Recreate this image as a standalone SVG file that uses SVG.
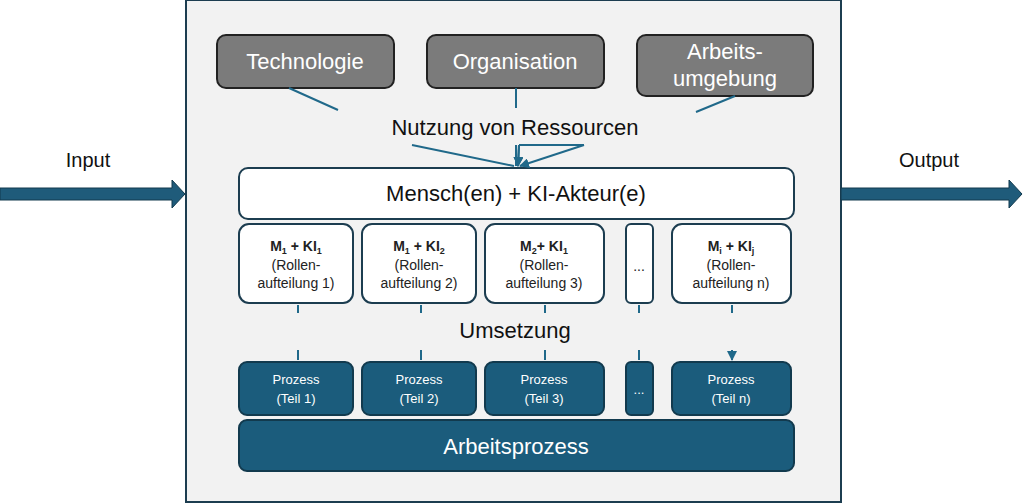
<svg xmlns="http://www.w3.org/2000/svg" width="1024" height="503" viewBox="0 0 1024 503">
<style>
text{font-family:"Liberation Sans",Arial,sans-serif;text-anchor:middle}
.g{fill:#7b7b7b;stroke:#222;stroke-width:2}
.w{fill:#fff;stroke:#1c3d50;stroke-width:2}
.b{fill:#1b5c7c;stroke:#123a4e;stroke-width:2}
.c{stroke:#20698a;stroke-width:2;fill:none}
.gt{fill:#fff;font-size:22px}
.st{font-size:14px;fill:#222}
.pt{font-size:13px;fill:#fff}
</style>
<defs>
<marker id="a" viewBox="0 0 10 10" refX="9" refY="5" markerWidth="5" markerHeight="5" orient="auto"><path d="M0,0L10,5L0,10z" fill="#20698a"/></marker>
</defs>
<rect x="0" y="0" width="1024" height="503" fill="#fff"/>
<rect id="frame" x="186" y="0" width="655" height="502" fill="#f2f2f2" stroke="#1c3d50" stroke-width="2"/>
<g id="input"><path d="M0,188H172V180L185,194L172,208V200H0z" fill="#1f5b7a" stroke="#123a4e"/><text x="88" y="167" font-size="20" fill="#111">Input</text></g>
<g id="output"><path d="M841,188H1009V180L1022,194L1009,208V200H841z" fill="#1f5b7a" stroke="#123a4e"/><text x="929" y="167" font-size="20" fill="#111">Output</text></g>
<g id="technologie"><rect class="g" x="217" y="35" width="177" height="53" rx="9"/><text class="gt" x="305" y="69">Technologie</text></g>
<g id="organisation"><rect class="g" x="427" y="35" width="177" height="53" rx="9"/><text class="gt" x="515" y="69">Organisation</text></g>
<g id="arbeitsumgebung"><rect class="g" x="637" y="35" width="176" height="61" rx="9"/><text class="gt" x="725" y="59">Arbeits-</text><text class="gt" x="725" y="86">umgebung</text></g>
<text x="515" y="135" font-size="22" fill="#111">Nutzung von Ressourcen</text>
<text x="515" y="338" font-size="22" fill="#111">Umsetzung</text>
<g id="mensch"><rect class="w" x="239" y="168" width="555" height="51" rx="9"/><text x="516" y="201" font-size="22" fill="#111">Mensch(en) + KI-Akteur(e)</text></g>
<g id="r1"><rect class="w" x="239" y="224" width="114" height="79" rx="10"/><text class="st" x="296" y="251" font-weight="bold">M<tspan font-size="9" dy="3">1</tspan><tspan dy="-3"> + KI</tspan><tspan font-size="9" dy="3">1</tspan></text><text class="st" x="296" y="270">(Rollen-</text><text class="st" x="296" y="288">aufteilung 1)</text></g>
<g id="r2"><rect class="w" x="362" y="224" width="114" height="79" rx="10"/><text class="st" x="419" y="251" font-weight="bold">M<tspan font-size="9" dy="3">1</tspan><tspan dy="-3"> + KI</tspan><tspan font-size="9" dy="3">2</tspan></text><text class="st" x="419" y="270">(Rollen-</text><text class="st" x="419" y="288">aufteilung 2)</text></g>
<g id="r3"><rect class="w" x="485" y="224" width="119" height="79" rx="10"/><text class="st" x="544" y="251" font-weight="bold">M<tspan font-size="9" dy="3">2</tspan><tspan dy="-3">+ KI</tspan><tspan font-size="9" dy="3">1</tspan></text><text class="st" x="544" y="270">(Rollen-</text><text class="st" x="544" y="288">aufteilung 3)</text></g>
<g id="rdots"><rect class="w" x="626" y="224" width="27" height="79" rx="5"/><text class="st" x="639" y="271">...</text></g>
<g id="rn"><rect class="w" x="672" y="224" width="119" height="79" rx="10"/><text class="st" x="731" y="251" font-weight="bold">M<tspan font-size="9" dy="3">i</tspan><tspan dy="-3"> + KI</tspan><tspan font-size="9" dy="3">j</tspan></text><text class="st" x="731" y="270">(Rollen-</text><text class="st" x="731" y="288">aufteilung n)</text></g>
<g id="p1"><rect class="b" x="239" y="362" width="114" height="53" rx="8"/><text class="pt" x="296" y="384">Prozess</text><text class="pt" x="296" y="403">(Teil 1)</text></g>
<g id="p2"><rect class="b" x="362" y="362" width="114" height="53" rx="8"/><text class="pt" x="419" y="384">Prozess</text><text class="pt" x="419" y="403">(Teil 2)</text></g>
<g id="p3"><rect class="b" x="485" y="362" width="119" height="53" rx="8"/><text class="pt" x="544" y="384">Prozess</text><text class="pt" x="544" y="403">(Teil 3)</text></g>
<g id="pdots"><rect class="b" x="626" y="362" width="27" height="53" rx="5"/><text class="pt" x="639" y="394">...</text></g>
<g id="pn"><rect class="b" x="672" y="362" width="119" height="53" rx="8"/><text class="pt" x="731" y="384">Prozess</text><text class="pt" x="731" y="403">(Teil n)</text></g>
<g id="arbeitsprozess"><rect class="b" x="239" y="420" width="555" height="51" rx="8"/><text x="516" y="454" font-size="22" fill="#fff">Arbeitsprozess</text></g>
<g id="connectors">
<path class="c" d="M289,88L338,110M516,88V108M735,96L696,112"/>
<path class="c" marker-end="url(#a)" d="M412,145L514,166M516,145V166M519,145L518,166"/>
<path class="c" marker-end="url(#a)" d="M519,145L518,166"/>
<path class="c" d="M519,145L584,145" stroke-width="0"/>
<path class="c" marker-end="url(#a)" d="M584,145L520,166"/>
<path class="c" d="M298,305V313M421,305V313M545,305V313M639,305V313M732,305V313"/>
<path class="c" marker-end="url(#a)" d="M298,350V360M421,350V360M545,350V360M639,350V360M732,350V360"/>
</g>
</svg>
